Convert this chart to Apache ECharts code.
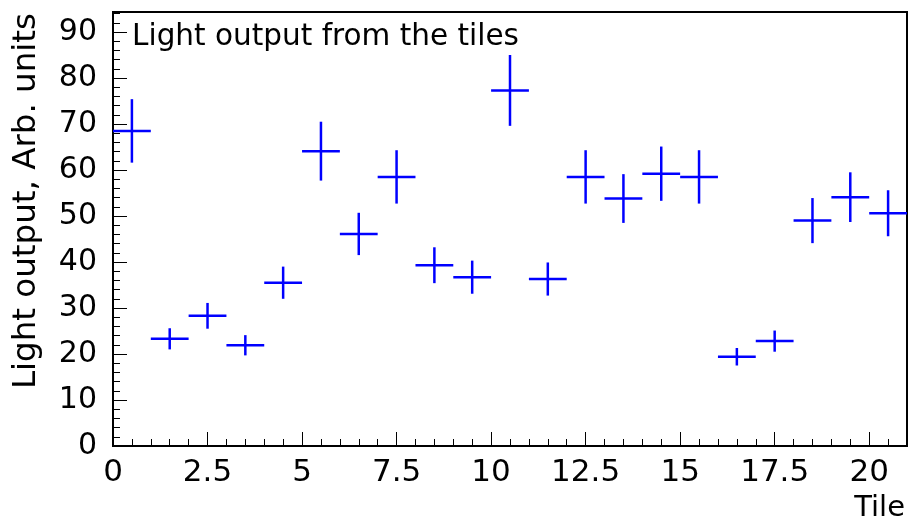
<!DOCTYPE html>
<html>
<head>
<meta charset="utf-8">
<title>Light output from the tiles</title>
<script src="https://cdn.jsdelivr.net/npm/echarts@6/dist/echarts.min.js"></script>
<style>
  html, body { margin: 0; padding: 0; background: #ffffff; }
  #chart { width: 909px; height: 527px; }
</style>
</head>
<body>
<div id="chart"></div>
<script>
// Tile bin centres (each bin is one unit wide)
const tileCenters = [0.5, 1.5, 2.5, 3.5, 4.5, 5.5, 6.5, 7.5, 8.5, 9.5, 10.5,
                     11.5, 12.5, 13.5, 14.5, 15.5, 16.5, 17.5, 18.5, 19.5, 20.5];
// Measured light output per tile, arbitrary units
const lightOutput = [68.5, 23.3, 28.3, 21.9, 35.5, 64.1, 46.1, 58.5, 39.3, 36.7, 77.3,
                     36.3, 58.5, 53.8, 59.2, 58.5, 19.4, 22.8, 49.0, 54.1, 50.6];
// Uncertainty on each measurement
const lightError = [6.9, 2.3, 2.8, 2.2, 3.5, 6.4, 4.6, 5.8, 3.9, 3.6, 7.7,
                    3.6, 5.8, 5.3, 5.9, 5.8, 1.9, 2.3, 4.9, 5.4, 5.0];
// Half of the bin width, drawn as the horizontal bar
const binHalfWidth = 0.5;

// Axis ranges and tick steps
const xRange = [0, 21];
const yRange = [0, 94.35];
const xMajorStep = 2.5, xMinorStep = 0.5;
const yMajorStep = 10, yMinorStep = 2;

const titleText = 'Light output from the tiles';
const xTitle = 'Tile';
const yTitle = 'Light output, Arb. units';

const FONT = '"DejaVu Sans", sans-serif';
const INK = '#000000';
const MARK = '#0000ff';

const points = tileCenters.map((x, i) => [x, lightOutput[i], lightError[i], binHalfWidth]);

const chart = echarts.init(document.getElementById('chart'), null, { renderer: 'canvas' });

function isMultiple(v, step) {
  const r = v / step;
  return Math.abs(r - Math.round(r)) < 1e-6;
}

const option = {
  animation: false,
  backgroundColor: '#ffffff',
  grid: {
    left: 113, right: 2, top: 12, bottom: 81,
    show: true, borderColor: INK, borderWidth: 2, backgroundColor: 'transparent'
  },
  xAxis: [
    {
      type: 'value', position: 'bottom',
      min: xRange[0], max: xRange[1], interval: xMajorStep,
      axisLine: { show: true, onZero: false, lineStyle: { color: INK, width: 2 } },
      axisTick: { show: true, inside: true, length: 14, lineStyle: { color: INK, width: 1 } },
      axisLabel: {
        show: true, margin: 11, color: INK, fontFamily: FONT, fontSize: 31,
        showMaxLabel: false,
        formatter: v => (isMultiple(v, xMajorStep) ? String(v) : '')
      },
      splitLine: { show: false }
    },
    {
      type: 'value', position: 'bottom',
      min: xRange[0], max: xRange[1], interval: xMinorStep,
      axisLine: { show: false },
      axisTick: { show: true, inside: true, length: 7, lineStyle: { color: INK, width: 1 } },
      axisLabel: { show: false },
      splitLine: { show: false }
    }
  ],
  yAxis: [
    {
      type: 'value', position: 'left',
      min: yRange[0], max: yRange[1], interval: yMajorStep,
      axisLine: { show: true, onZero: false, lineStyle: { color: INK, width: 2 } },
      axisTick: { show: true, inside: true, length: 14, lineStyle: { color: INK, width: 1 } },
      axisLabel: {
        show: true, margin: 16, color: INK, fontFamily: FONT, fontSize: 30,
        showMaxLabel: false,
        formatter: v => (isMultiple(v, yMajorStep) ? String(v) : '')
      },
      splitLine: { show: false }
    },
    {
      type: 'value', position: 'left',
      min: yRange[0], max: yRange[1], interval: yMinorStep,
      axisLine: { show: false },
      axisTick: { show: true, inside: true, length: 7, lineStyle: { color: INK, width: 1 } },
      axisLabel: { show: false },
      splitLine: { show: false }
    }
  ],
  graphic: [
    {
      type: 'text', x: 132, y: 37, silent: true,
      style: { text: titleText, fill: INK, font: '29.5px ' + FONT, align: 'left', verticalAlign: 'middle' }
    },
    {
      type: 'text', x: 905, y: 508, silent: true,
      style: { text: xTitle, fill: INK, font: '29px ' + FONT, align: 'right', verticalAlign: 'middle' }
    },
    {
      type: 'text', x: 27, y: 13, rotation: Math.PI / 2, silent: true,
      style: { text: yTitle, fill: INK, font: '32.5px ' + FONT, align: 'right', verticalAlign: 'middle' }
    }
  ],
  series: [
    {
      type: 'custom',
      xAxisIndex: 0, yAxisIndex: 0,
      data: points,
      clip: true,
      renderItem: function (params, api) {
        const x = api.value(0), y = api.value(1), e = api.value(2), w = api.value(3);
        const left = api.coord([x - w, y]);
        const right = api.coord([x + w, y]);
        const top = api.coord([x, y + e]);
        const bottom = api.coord([x, y - e]);
        const style = { stroke: MARK, lineWidth: 2.5, fill: null };
        return {
          type: 'group',
          children: [
            { type: 'line', shape: { x1: left[0], y1: left[1], x2: right[0], y2: right[1] }, style: style },
            { type: 'line', shape: { x1: top[0], y1: top[1], x2: bottom[0], y2: bottom[1] }, style: style }
          ]
        };
      }
    }
  ]
};

chart.setOption(option);
</script>
</body>
</html>
